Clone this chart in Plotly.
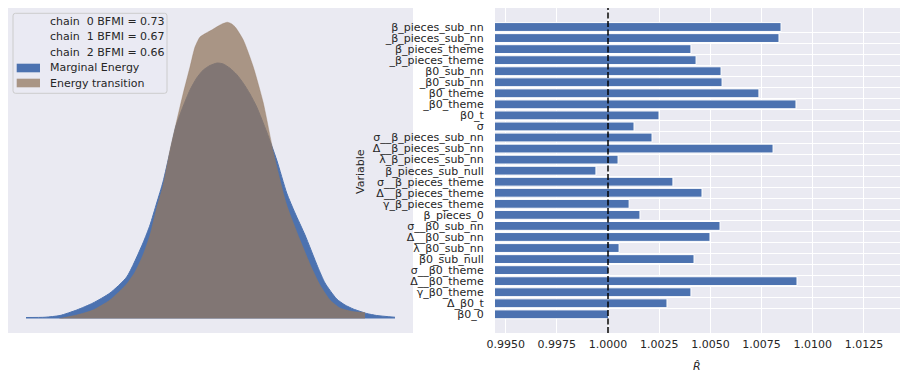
import plotly.graph_objects as go

# ---------------- Energy plot (left) ----------------
marginal_energy = [-9.2, -8.25, -7.5, -6.665, -5.85, -5.0, -4.165, -3.35, -3.0, -2.665, -2.35,
                   -2.0, -1.7, -1.335, -1.0, -0.665, -0.335, 0.0, 0.365, 0.665, 1.0, 1.335,
                   1.665, 2.0, 2.335, 2.835, 3.335, 3.835, 4.25, 4.75, 5.385, 5.75, 6.335,
                   6.75, 7.165, 7.835, 8.335, 9.25]
marginal_density = [0.0004, 0.0005, 0.0012, 0.0034, 0.0062, 0.0102, 0.0166, 0.0302, 0.0374,
                    0.0462, 0.0546, 0.0666, 0.0770, 0.0850, 0.0914, 0.0962, 0.0994, 0.1012,
                    0.1022, 0.1018, 0.1001, 0.0976, 0.0941, 0.0898, 0.0846, 0.0746, 0.0634,
                    0.0502, 0.0422, 0.0334, 0.0207, 0.0142, 0.0078, 0.0054, 0.0038, 0.0020,
                    0.0012, 0.0005]

transition_energy = [-7.535, -6.665, -5.85, -5.0, -4.165, -3.75, -3.35, -3.0, -2.665, -2.35,
                     -2.0, -1.7, -1.335, -1.0, -0.75, -0.5, -0.165, 0.085, 0.415, 0.6, 0.865,
                     1.05, 1.25, 1.665, 2.165, 2.665, 3.165, 3.5, 3.835, 4.5, 5.085, 5.5, 6.0,
                     6.5, 7.15, 7.75]
transition_density = [0.0, 0.0014, 0.0034, 0.0074, 0.0138, 0.0186, 0.0254, 0.0334, 0.0442,
                      0.0530, 0.0674, 0.0778, 0.0902, 0.1006, 0.1086, 0.1126, 0.1143, 0.1154,
                      0.1170, 0.1178, 0.1185, 0.1180, 0.1167, 0.1114, 0.1006, 0.0862, 0.0666,
                      0.0554, 0.0454, 0.0314, 0.0202, 0.0134, 0.0074, 0.0042, 0.0028, 0.0024]

chains = [0, 1, 2]
bfmi = [0.73, 0.67, 0.66]
series_names = ["Marginal Energy", "Energy transition"]

# ---------------- R-hat plot (right) ----------------
variables = ["β_pieces_sub_nn", "_β_pieces_sub_nn", "β_pieces_theme", "_β_pieces_theme",
             "β0_sub_nn", "_β0_sub_nn", "β0_theme", "_β0_theme", "β0_t", "σ",
             "σ__β_pieces_sub_nn", "Δ__β_pieces_sub_nn", "λ_β_pieces_sub_nn",
             "β_pieces_sub_null", "σ__β_pieces_theme", "Δ__β_pieces_theme",
             "γ_β_pieces_theme", "β_pieces_0", "σ__β0_sub_nn", "Δ__β0_sub_nn",
             "λ_β0_sub_nn", "β0_sub_null", "σ__β0_theme", "Δ__β0_theme", "γ_β0_theme",
             "Δ_β0_t", "β0_0"]
rhat = [1.00845, 1.00835, 1.00405, 1.00430, 1.00552, 1.00557, 1.00737, 1.00918, 1.00249,
        1.00127, 1.00215, 1.00806, 1.00049, 0.99941, 1.00317, 1.00459, 1.00103, 1.00156,
        1.00547, 1.00498, 1.00054, 1.00420, 1.00003, 1.00923, 1.00405, 1.00288, 1.00003]
rhat_ticks = [0.9950, 0.9975, 1.0000, 1.0025, 1.0050, 1.0075, 1.0100, 1.0125]

BG = "#EAEAF2"
TXT = "#262626"
FONT = "DejaVu Sans"
BLUE = "#4C72B0"
BROWN = "rgba(147,120,96,0.75)"
W, H = 907, 382


def px(x):
    return x / W


def py(y):
    return 1 - y / H


fig = go.Figure()

fig.add_trace(go.Scatter(
    x=marginal_energy, y=marginal_density, mode="lines", fill="tozeroy",
    line=dict(color=BLUE, width=1, shape="spline", smoothing=0.6),
    fillcolor=BLUE, name=series_names[0], showlegend=False, xaxis="x", yaxis="y"))
fig.add_trace(go.Scatter(
    x=transition_energy, y=transition_density, mode="lines", fill="tozeroy",
    line=dict(color=BROWN, width=0.5, shape="spline", smoothing=0.6),
    fillcolor=BROWN, name=series_names[1], showlegend=False, xaxis="x", yaxis="y"))

fig.add_trace(go.Bar(
    x=rhat, y=list(range(len(variables))), orientation="h", base=0, width=0.8,
    marker=dict(color=BLUE, line=dict(color="white", width=1)),
    showlegend=False, xaxis="x2", yaxis="y2"))

ydom = [1 - 333 / H, 1 - 8 / H]

fig.update_layout(
    width=W, height=H,
    margin=dict(l=0, r=0, t=0, b=0),
    paper_bgcolor="white", plot_bgcolor=BG,
    font=dict(family=FONT, size=11, color=TXT),
    showlegend=False,
    xaxis=dict(domain=[8 / W, 413 / W], range=[-10.1, 10.15], showgrid=False,
               zeroline=False, showticklabels=False, ticks="", showline=False),
    yaxis=dict(domain=ydom, range=[-0.0058, 0.1242], showgrid=False, zeroline=False,
               showticklabels=False, ticks="", showline=False),
    xaxis2=dict(domain=[495 / W, 900 / W], range=[0.99448, 1.01426], anchor="y2",
                tickvals=rhat_ticks, ticktext=[f"{v:.4f}" for v in rhat_ticks],
                showgrid=True, gridcolor="white", gridwidth=1.3, zeroline=False,
                ticks="outside", ticklen=1, tickcolor="rgba(0,0,0,0)",
                tickfont=dict(family=FONT, size=11, color=TXT), automargin=False),
    yaxis2=dict(domain=ydom, range=[len(variables) - 1 + 1.69, -1.72], anchor="x2",
                tickvals=list(range(len(variables))), ticktext=variables,
                showgrid=False, zeroline=False,
                minor=dict(tickvals=[i + 0.5 for i in range(len(variables) - 1)],
                           showgrid=True, gridcolor="white", gridwidth=1.3, ticks=""),
                ticks="outside", ticklen=8, tickcolor="rgba(0,0,0,0)",
                tickfont=dict(family=FONT, size=11, color=TXT), automargin=False),
)

# R-hat = 1 reference line
fig.add_shape(type="line", xref="x2", yref="y2 domain", x0=1.0, x1=1.0, y0=0, y1=1,
              line=dict(color="rgba(0,0,0,0.75)", width=2, dash="6px,2.5px"), layer="above")

# ---- legend box (matplotlib style) ----
lx0, lx1, ly0, ly1, r = 13, 167, 13.3, 93.3, 2.5
path = (f"M {px(lx0 + r)} {py(ly0)} L {px(lx1 - r)} {py(ly0)} "
        f"Q {px(lx1)} {py(ly0)} {px(lx1)} {py(ly0 + r)} L {px(lx1)} {py(ly1 - r)} "
        f"Q {px(lx1)} {py(ly1)} {px(lx1 - r)} {py(ly1)} L {px(lx0 + r)} {py(ly1)} "
        f"Q {px(lx0)} {py(ly1)} {px(lx0)} {py(ly1 - r)} L {px(lx0)} {py(ly0 + r)} "
        f"Q {px(lx0)} {py(ly0)} {px(lx0 + r)} {py(ly0)} Z")
fig.add_shape(type="path", xref="paper", yref="paper", path=path,
              fillcolor="rgba(234,234,242,0.8)", line=dict(color="#CCCCCC", width=1),
              layer="above")

row_y = [21, 37, 52, 68, 83]
labels = [f"chain\u00a0\u00a0{c} BFMI = {b:.2f}" for c, b in zip(chains, bfmi)] + series_names
for yy, lab in zip(row_y, labels):
    fig.add_annotation(text=lab, xref="paper", yref="paper", x=px(48), y=py(yy),
                       xanchor="left", yanchor="middle", showarrow=False,
                       font=dict(family=FONT, size=11, color=TXT))
for yy, col in zip(row_y[3:], [BLUE, BROWN]):
    fig.add_shape(type="rect", xref="paper", yref="paper", x0=px(16.7), x1=px(40),
                  y0=py(yy - 4.3), y1=py(yy + 4.3), fillcolor=col, line=dict(width=0),
                  layer="above")

fig.add_annotation(text="Variable", xref="paper", yref="paper", x=px(361), y=py(172),
                   textangle=-90, showarrow=False, font=dict(family=FONT, size=11, color=TXT),
                   xanchor="center", yanchor="middle")
fig.add_annotation(text="<i>R\u0302</i>", xref="paper", yref="paper", x=px(697), y=py(366),
                   showarrow=False, font=dict(family=FONT, size=11, color=TXT),
                   xanchor="center", yanchor="middle")

fig.write_html("out.html", config={"displayModeBar": False},
               post_script="document.body.style.margin='0';")
